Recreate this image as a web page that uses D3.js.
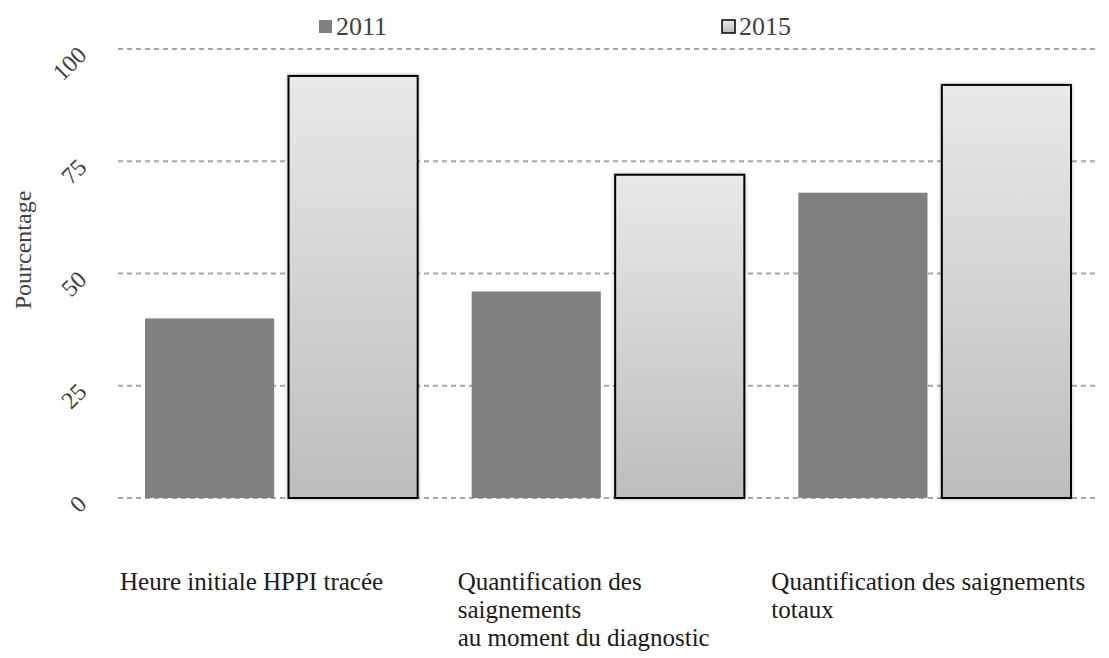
<!DOCTYPE html>
<html>
<head>
<meta charset="utf-8">
<script src="https://cdn.jsdelivr.net/npm/d3@7"></script>
<style>
  html, body { margin: 0; padding: 0; background: #fff; }
  svg text { font-family: 'Liberation Serif', Tinos, 'Times New Roman', 'DejaVu Serif', serif; }
</style>
</head>
<body>
<svg id="chart" width="1109" height="658"></svg>
<script>
/* ------------------------------- data -------------------------------- */
const categories = [
  ['Heure initiale HPPI tracée'],
  ['Quantification des', 'saignements', 'au moment du diagnostic'],
  ['Quantification des saignements', 'totaux']
];
const catKeys    = ['c1', 'c2', 'c3'];
const years      = ['2011', '2015'];
const values2011 = [40, 46, 68];
const values2015 = [94, 72, 92];
const yTicks     = [0, 25, 50, 75, 100];

/* ------------------------------- layout ------------------------------ */
const svg    = d3.select('#chart');
const LEFT   = 118, RIGHT = 1098, TOP = 49, BOTTOM = 498;
const labelNudge = [2, 13, 0];

const x0 = d3.scaleBand().domain(catKeys).range([LEFT, RIGHT]);
const x1 = d3.scaleBand().domain(years)
  .range([27, x0.bandwidth() - 27]).paddingInner(0.1);
const y  = d3.scaleLinear().domain([0, 100]).range([BOTTOM, TOP]);

const defs = svg.append('defs');
const grad = defs.append('linearGradient').attr('id', 'g15')
  .attr('x1', 0).attr('y1', 0).attr('x2', 0).attr('y2', 1);
grad.append('stop').attr('offset', '0%').attr('stop-color', '#e9e9e9');
grad.append('stop').attr('offset', '100%').attr('stop-color', '#bdbdbd');

const shadow = defs.append('filter').attr('id', 'sh')
  .attr('x', '-10%').attr('y', '-10%').attr('width', '120%').attr('height', '120%');
shadow.append('feDropShadow').attr('dx', 0).attr('dy', 0)
  .attr('stdDeviation', 2).attr('flood-color', '#000').attr('flood-opacity', 0.25);

/* ------------------------------- grid -------------------------------- */
svg.append('g')
  .selectAll('line')
  .data(yTicks)
  .join('line')
  .attr('x1', LEFT).attr('x2', RIGHT)
  .attr('y1', d => y(d)).attr('y2', d => y(d))
  .attr('stroke', '#a6a6a6')
  .attr('stroke-width', 2)
  .attr('stroke-dasharray', '5,4');

/* y tick labels, rotated */
svg.append('g')
  .selectAll('text')
  .data(yTicks)
  .join('text')
  .attr('transform', d => `translate(88,${y(d) + 7.5}) rotate(-45)`)
  .attr('text-anchor', 'end')
  .attr('font-size', 24)
  .attr('fill', '#404040')
  .text(d => d);

svg.append('text')
  .attr('transform', 'translate(31,250) rotate(-90)')
  .attr('text-anchor', 'middle')
  .attr('font-size', 24)
  .attr('fill', '#404040')
  .text('Pourcentage');

/* ------------------------------- bars -------------------------------- */
const groups = svg.append('g')
  .selectAll('g')
  .data(catKeys)
  .join('g')
  .attr('transform', d => `translate(${x0(d)},0)`);

groups.append('rect')
  .attr('x', x1('2011'))
  .attr('width', x1.bandwidth())
  .attr('y', (d, i) => y(values2011[i]))
  .attr('height', (d, i) => y(0) - y(values2011[i]))
  .attr('fill', '#808080');

groups.append('rect')
  .attr('x', x1('2015'))
  .attr('width', x1.bandwidth())
  .attr('y', (d, i) => y(values2015[i]))
  .attr('height', (d, i) => y(0) - y(values2015[i]))
  .attr('fill', 'url(#g15)')
  .attr('stroke', '#000')
  .attr('stroke-width', 2)
  .attr('filter', 'url(#sh)');

/* ------------------------------- category labels --------------------- */
svg.append('g')
  .selectAll('text')
  .data(catKeys)
  .join('text')
  .attr('y', 590)
  .attr('font-size', 25)
  .attr('fill', '#1a1a1a')
  .each(function(d, i) {
    const t = d3.select(this);
    const xx = x0(d) + labelNudge[i];
    categories[i].forEach((line, k) => {
      t.append('tspan').attr('x', xx).attr('dy', k === 0 ? 0 : 28).text(line);
    });
  });

/* ------------------------------- legend ------------------------------ */
const legendX = [319, 722];
const legend = svg.append('g')
  .selectAll('g')
  .data(years)
  .join('g')
  .attr('transform', (d, i) => `translate(${legendX[i]},20)`);

legend.append('rect')
  .attr('width', 13).attr('height', 13)
  .attr('fill', (d, i) => i === 0 ? '#808080' : 'url(#g15)')
  .attr('stroke', (d, i) => i === 0 ? 'none' : '#000')
  .attr('stroke-width', 1.5);

legend.append('text')
  .attr('x', 17).attr('y', 15)
  .attr('font-size', 26)
  .attr('fill', '#404040')
  .text(d => d);
</script>
</body>
</html>
